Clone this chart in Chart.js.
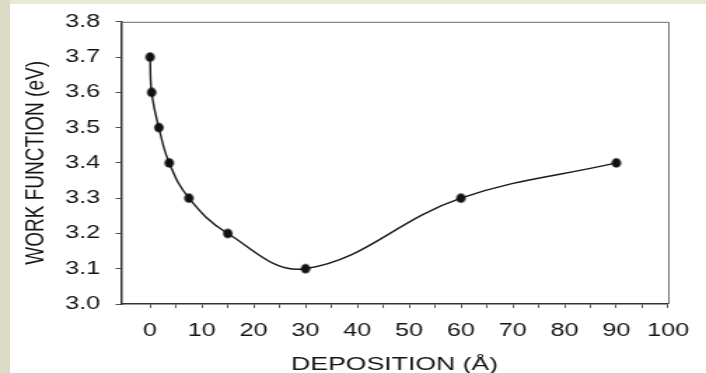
<!DOCTYPE html>
<html>
<head>
<meta charset="utf-8">
<script src="https://cdn.jsdelivr.net/npm/chart.js@4/dist/chart.umd.min.js"></script>
<style>
  html, body { margin: 0; padding: 0; }
  body { width: 706px; height: 373px; position: relative; overflow: hidden; background: #ebe9d4; }
  #strip { position: absolute; left: 0; top: 0; width: 10px; height: 373px; background: #dcdbc5; }
  #paper { position: absolute; left: 10px; top: 4px; right: 0; bottom: 0; background: #ffffff; }
  /* the figure is drawn on a narrower canvas and widened, giving its broad lettering */
  #wrap { position: absolute; left: 0; top: 0; width: 504px; height: 373px;
          transform: scaleX(1.40079); transform-origin: 0 0; }
</style>
</head>
<body>
<div id="strip"></div>
<div id="paper"></div>
<div id="wrap"><canvas id="c"></canvas></div>
<script>
// Work function versus deposition thickness
const deposition = [0, 0.3, 1.7, 3.7, 7.5, 15, 30, 60, 90];
const workFunction = [3.7, 3.6, 3.5, 3.4, 3.3, 3.2, 3.1, 3.3, 3.4];

const xTickValues = [0, 5, 10, 15, 20, 25, 30, 35, 40, 45, 50, 55, 60, 65, 70, 75, 80, 85, 90, 95, 100];
const xTickLabels = ['0', '', '10', '', '20', '', '30', '', '40', '', '50', '', '60', '', '70', '', '80', '', '90', '', '100'];
const yTickValues = [3.0, 3.1, 3.2, 3.3, 3.4, 3.5, 3.6, 3.7, 3.8];
const yTickLabels = ['3.0', '3.1', '3.2', '3.3', '3.4', '3.5', '3.6', '3.7', '3.8'];

const xTitle = 'DEPOSITION (Å)';
const yTitle = 'WORK FUNCTION (eV)';

const textColor = '#141414';
const fontFamily = '"Liberation Sans", Arial, sans-serif';

// round dot that stays round once the canvas is widened
const WIDEN = 1.40079;
function makeDot(diameter) {
  const h = Math.ceil(diameter) + 2;
  const w = Math.ceil(diameter / WIDEN) + 2;
  const c = document.createElement('canvas');
  c.width = w; c.height = h;
  const g = c.getContext('2d');
  g.fillStyle = '#111111';
  g.beginPath();
  g.ellipse(w / 2, h / 2, diameter / WIDEN / 2, diameter / 2, 0, 0, Math.PI * 2);
  g.fill();
  return c;
}
const dot = makeDot(9.5);

// closes the plot frame on the top and right sides
const frame = {
  id: 'frame',
  afterDraw(chart) {
    const { ctx, chartArea: a } = chart;
    ctx.save();
    ctx.strokeStyle = '#6a6a6a';
    ctx.lineWidth = 1;
    ctx.beginPath();
    ctx.moveTo(a.left, a.top + 0.5);
    ctx.lineTo(a.right + 0.5, a.top + 0.5);
    ctx.lineTo(a.right + 0.5, a.bottom);
    ctx.stroke();
    ctx.restore();
  }
};

new Chart(document.getElementById('c'), {
  type: 'line',
  data: {
    datasets: [{
      data: deposition.map((x, i) => ({ x, y: workFunction[i] })),
      borderColor: '#1a1a1a',
      borderWidth: 1.4,
      backgroundColor: '#111111',
      pointStyle: dot,
      pointRadius: 5,
      tension: 0.4,
      fill: false
    }]
  },
  options: {
    responsive: true,
    maintainAspectRatio: false,
    animation: false,
    events: [],
    layout: { padding: { left: 0, right: 25.7, top: 17, bottom: 0 } },
    plugins: { legend: { display: false }, tooltip: { enabled: false } },
    scales: {
      x: {
        type: 'linear',
        position: 'bottom',
        min: -5.6,
        max: 100,
        afterBuildTicks(scale) { scale.ticks = xTickValues.map(v => ({ value: v })); },
        afterFit(scale) { scale.height = 69; },
        ticks: {
          autoSkip: false,
          maxRotation: 0,
          padding: 12,
          color: textColor,
          font: { family: fontFamily, size: 18 },
          callback: (v, i) => xTickLabels[i]
        },
        grid: { drawOnChartArea: false, drawTicks: true, tickLength: 4, color: '#555555', lineWidth: 1 },
        border: { display: true, color: '#333333', width: 1.5 },
        title: {
          display: true,
          text: xTitle,
          color: textColor,
          font: { family: fontFamily, size: 19, lineHeight: 0.85 },
          padding: { top: 0, bottom: 0 }
        }
      },
      y: {
        type: 'linear',
        position: 'left',
        min: 3.0,
        max: 3.8,
        afterBuildTicks(scale) { scale.ticks = yTickValues.map(v => ({ value: v })); },
        afterFit(scale) { scale.width = 86.4; },
        ticks: {
          autoSkip: false,
          padding: 11,
          color: textColor,
          font: { family: fontFamily, size: 18 },
          callback: (v, i) => yTickLabels[i]
        },
        grid: { drawOnChartArea: false, drawTicks: true, tickLength: 4, color: '#555555', lineWidth: 1 },
        border: { display: true, color: '#333333', width: 1.5 },
        title: {
          display: true,
          text: yTitle,
          color: textColor,
          font: { family: fontFamily, size: 19, lineHeight: 1 },
          padding: { top: 16.5, bottom: 0 }
        }
      }
    }
  },
  plugins: [frame]
});
</script>
</body>
</html>
